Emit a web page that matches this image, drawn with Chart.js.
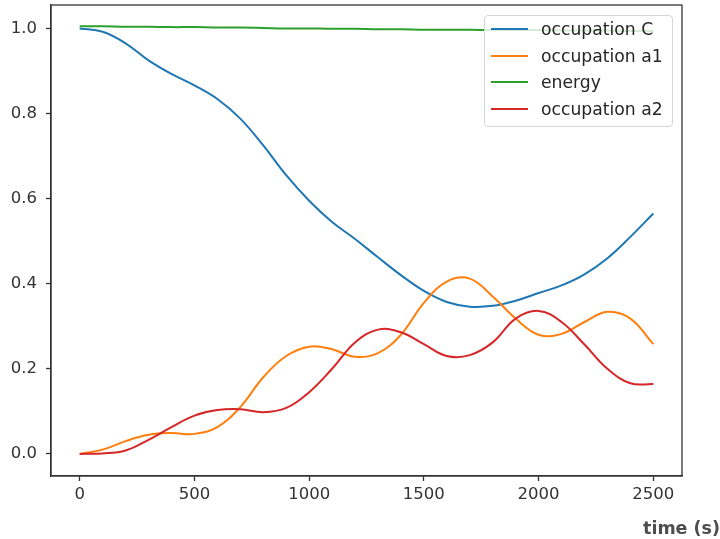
<!DOCTYPE html>
<html>
<head>
<meta charset="utf-8">
<script src="https://cdn.jsdelivr.net/npm/chart.js@4"></script>
<style>
  html, body { margin: 0; padding: 0; background: #fff; }
  #wrap { position: relative; width: 720px; height: 539px; }
  #legend {
    position: absolute; left: 484px; top: 15px; width: 187px; height: 110px;
    border: 1px solid #d6d6d6; border-radius: 4px; background: rgba(255,255,255,0.8);
    font-family: "DejaVu Sans", sans-serif; font-size: 17.2px; color: #262626;
  }
  .item { position: absolute; left: 0; height: 20px; line-height: 20px; white-space: nowrap; }
  .item span.line { position: absolute; left: 6px; top: 9px; width: 37px; height: 2px; }
  .item span.txt { position: absolute; left: 56px; top: 0; }
  #xtitle {
    position: absolute; right: 0px; top: 518px;
    font-family: "DejaVu Sans", sans-serif; font-weight: bold; font-size: 17.5px; color: #4d4d4d;
  }
</style>
</head>
<body>
<div id="wrap">
  <canvas id="chart" width="720" height="539"></canvas>
  <div id="legend"></div>
  <div id="xtitle">time (s)</div>
</div>
<script>
// time axis (s)
var times = [0,100,200,300,400,500,600,700,800,900,1000,1100,1200,1300,1400,1500,1600,1700,1800,1900,2000,2100,2200,2300,2400,2500];

var occC = [1.000,0.992,0.965,0.925,0.893,0.866,0.834,0.788,0.725,0.655,0.595,0.545,0.505,0.462,0.420,0.383,0.357,0.346,0.348,0.360,0.378,0.396,0.422,0.460,0.510,0.565];
var occA1 = [0.000,0.010,0.030,0.045,0.049,0.047,0.063,0.110,0.180,0.230,0.252,0.246,0.228,0.237,0.280,0.355,0.405,0.412,0.370,0.318,0.280,0.282,0.310,0.334,0.318,0.258];
var energy = [1.005,1.005,1.004,1.004,1.003,1.003,1.002,1.002,1.001,1.000,1.000,0.999,0.999,0.998,0.998,0.997,0.997,0.997,0.996,0.996,0.996,0.995,0.995,0.995,0.994,0.994];
var occA2 = [0.000,0.001,0.008,0.033,0.063,0.090,0.103,0.105,0.098,0.108,0.145,0.200,0.262,0.292,0.286,0.258,0.230,0.232,0.262,0.318,0.336,0.310,0.257,0.200,0.166,0.164];

var labels = ['occupation C', 'occupation a1', 'energy', 'occupation a2'];
var colors = ['#1f77b4', '#ff7f0e', '#2ca02c', '#d62728'];

var xTicks = [0, 500, 1000, 1500, 2000, 2500];
var yTicks = [0, 0.2, 0.4, 0.6, 0.8, 1.0];

function pts(vals) {
    return vals.map(function (v, i) { return { x: times[i], y: v }; });
}

var series = [occC, occA1, energy, occA2];
var datasets = [];
for (var i = 0; i < series.length; i++) {
    datasets.push({
        label: labels[i],
        data: pts(series[i]),
        borderColor: colors[i],
        backgroundColor: colors[i],
        borderWidth: 2,
        pointRadius: 0,
        tension: 0.4,
        fill: false,
        order: series.length - i   // later series drawn on top, like matplotlib
    });
}

// full box around the plot area
var frame = {
    id: 'frame',
    afterDraw: function (chart) {
        var a = chart.chartArea, ctx = chart.ctx;
        ctx.save();
        ctx.strokeStyle = '#333';
        ctx.lineWidth = 1.3;
        ctx.strokeRect(a.left, a.top, a.right - a.left, a.bottom - a.top);
        ctx.restore();
    }
};

var tickFont = { family: 'DejaVu Sans', size: 16.5 };

var chart = new Chart(document.getElementById('chart').getContext('2d'), {
    type: 'line',
    data: { datasets: datasets },
    options: {
        responsive: false,
        animation: false,
        layout: { padding: { left: 0, top: 5, right: 38, bottom: 0 } },
        plugins: { legend: { display: false }, tooltip: { enabled: false } },
        scales: {
            x: {
                type: 'linear',
                min: -125,
                max: 2625,
                afterBuildTicks: function (s) { s.ticks = xTicks.map(function (v) { return { value: v }; }); },
                afterFit: function (s) { s.height = 63; s.paddingLeft = 0; s.paddingRight = 0; },
                ticks: {
                    font: tickFont, color: '#333', padding: 4, maxRotation: 0,
                    callback: function (v) { return String(v); }
                },
                grid: { drawOnChartArea: false, tickLength: 5, tickColor: '#333', tickWidth: 1.3 },
                border: { display: true, color: '#333', width: 1.3 }
            },
            y: {
                type: 'linear',
                min: -0.052,
                max: 1.055,
                afterBuildTicks: function (s) { s.ticks = yTicks.map(function (v) { return { value: v }; }); },
                afterFit: function (s) { s.width = 51; s.paddingTop = 0; s.paddingBottom = 0; },
                ticks: {
                    font: tickFont, color: '#333', padding: 9,
                    callback: function (v) { return v.toFixed(1); }
                },
                grid: { drawOnChartArea: false, tickLength: 5, tickColor: '#333', tickWidth: 1.3 },
                border: { display: true, color: '#333', width: 1.3 }
            }
        }
    },
    plugins: [frame]
});

// legend inside the axes, top right
var legend = document.getElementById('legend');
var rowTops = [3, 30, 56, 83];
chart.data.datasets.forEach(function (ds, i) {
    var item = document.createElement('div');
    item.className = 'item';
    item.style.top = rowTops[i] + 'px';
    item.innerHTML = '<span class="line" style="background:' + ds.borderColor + '"></span><span class="txt">' + ds.label + '</span>';
    legend.appendChild(item);
});
</script>
</body>
</html>
